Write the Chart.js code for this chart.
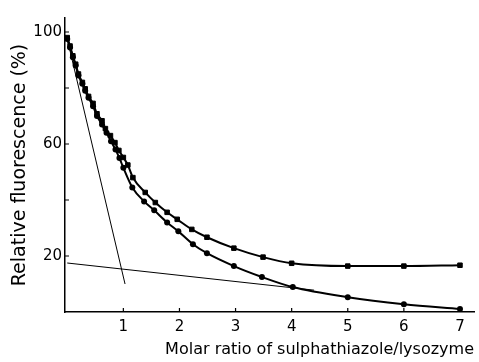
<!DOCTYPE html>
<html>
<head>
<meta charset="utf-8">
<script src="https://cdn.jsdelivr.net/npm/chart.js@4.4.0/dist/chart.umd.min.js"></script>
<style>
  html, body { margin: 0; padding: 0; background: #fff; }
  canvas { display: block; }
</style>
</head>
<body>
<canvas id="chart" width="479" height="362"></canvas>
<script>
// upper curve (squares)
const ratioA = [0, 0.05, 0.1, 0.15, 0.2, 0.27, 0.32, 0.38, 0.46, 0.53, 0.62, 0.68, 0.77, 0.85, 0.92, 1.0, 1.08, 1.17, 1.39, 1.57, 1.78, 1.96, 2.22, 2.49, 2.97, 3.49, 4, 5, 6, 7];
const fluorA = [98, 95, 91.5, 88.5, 85, 82, 79.7, 77, 74.5, 70.8, 68.3, 65.5, 63, 60.5, 57.7, 55.2, 52.5, 48, 42.7, 39.1, 35.6, 33.1, 29.5, 26.7, 22.8, 19.6, 17.4, 16.4, 16.4, 16.7];
// lower curve (dots)
const ratioB = [0, 0.05, 0.1, 0.15, 0.2, 0.27, 0.32, 0.38, 0.46, 0.53, 0.62, 0.7, 0.78, 0.86, 0.93, 1.0, 1.16, 1.37, 1.55, 1.78, 1.98, 2.24, 2.49, 2.97, 3.47, 4.02, 5, 6, 7];
const fluorB = [97.5, 94.5, 91, 88, 84.5, 81.5, 79, 76.5, 73.5, 70, 67, 64, 61, 58, 55, 51.5, 44.5, 39.5, 36.3, 32, 28.8, 24.2, 21, 16.4, 12.5, 8.9, 5.3, 2.8, 1.1];
// tangent lines
const steepX = [0, 1.03];
const steepY = [97.5, 10];
const flatX = [0, 4.4];
const flatY = [17.5, 7.8];

const xTicks = [1, 2, 3, 4, 5, 6, 7];
const yTicks = [20, 40, 60, 80, 100];
const yLabelled = [20, 60, 100];

function toPoints(xs, ys) {
    let pts = [];
    for (let i = 0; i < xs.length; i++) {
        pts.push({ x: xs[i], y: ys[i] });
    }
    return pts;
}

const fontFamily = '"DejaVu Sans", sans-serif';

// small tick marks drawn inside the axes
const innerTicks = {
    id: 'innerTicks',
    afterDraw(chart) {
        const ctx = chart.ctx;
        const xs = chart.scales.x;
        const ys = chart.scales.y;
        const area = chart.chartArea;
        ctx.save();
        ctx.strokeStyle = '#000';
        ctx.lineWidth = 1.2;
        ctx.beginPath();
        xTicks.forEach(v => {
            const px = xs.getPixelForValue(v);
            ctx.moveTo(px, area.bottom);
            ctx.lineTo(px, area.bottom - 4);
        });
        yTicks.forEach(v => {
            const py = ys.getPixelForValue(v);
            ctx.moveTo(area.left, py);
            ctx.lineTo(area.left + 4, py);
        });
        ctx.stroke();
        ctx.restore();
    }
};

new Chart(document.getElementById('chart').getContext('2d'), {
    type: 'scatter',
    data: {
        datasets: [
            {
                data: toPoints(ratioA, fluorA),
                showLine: true,
                borderColor: '#000',
                backgroundColor: '#000',
                borderWidth: 2,
                pointStyle: 'rect',
                pointRadius: 3.2,
                pointBorderWidth: 1,
                cubicInterpolationMode: 'monotone'
            },
            {
                data: toPoints(ratioB, fluorB),
                showLine: true,
                borderColor: '#000',
                backgroundColor: '#000',
                borderWidth: 2,
                pointStyle: 'circle',
                pointRadius: 3,
                pointBorderWidth: 0,
                cubicInterpolationMode: 'monotone'
            },
            {
                data: toPoints(steepX, steepY),
                showLine: true,
                borderColor: '#000',
                borderWidth: 1,
                pointRadius: 0
            },
            {
                data: toPoints(flatX, flatY),
                showLine: true,
                borderColor: '#000',
                borderWidth: 1,
                pointRadius: 0
            }
        ]
    },
    options: {
        responsive: false,
        animation: false,
        devicePixelRatio: 1,
        layout: { padding: { top: 18, right: -6, left: 0, bottom: 0 } },
        plugins: {
            legend: { display: false },
            tooltip: { enabled: false }
        },
        scales: {
            x: {
                type: 'linear',
                min: -0.04,
                max: 7.25,
                afterBuildTicks(scale) {
                    scale.ticks = xTicks.map(v => ({ value: v }));
                },
                afterFit(scale) { scale.height = 50; },
                grid: { drawOnChartArea: false, drawTicks: false },
                border: { display: true, color: '#000', width: 1.5 },
                ticks: {
                    color: '#000',
                    padding: 6,
                    maxRotation: 0,
                    font: { family: fontFamily, size: 15 }
                },
                title: {
                    display: true,
                    text: 'Molar ratio of sulphathiazole/lysozyme',
                    align: 'end',
                    color: '#000',
                    padding: { top: 0, bottom: 3 },
                    font: { family: fontFamily, size: 16 }
                }
            },
            y: {
                type: 'linear',
                min: 0,
                max: 105,
                afterBuildTicks(scale) {
                    scale.ticks = yTicks.map(v => ({ value: v }));
                },
                afterFit(scale) { scale.width = 65; },
                grid: { drawOnChartArea: false, drawTicks: false },
                border: { display: true, color: '#000', width: 1.5 },
                ticks: {
                    color: '#000',
                    padding: 3,
                    font: { family: fontFamily, size: 15 },
                    callback: function (value) {
                        return yLabelled.includes(value) ? String(value) : '';
                    }
                },
                title: {
                    display: true,
                    text: 'Relative fluorescence (%)',
                    color: '#000',
                    padding: { top: 9, bottom: 0 },
                    font: { family: fontFamily, size: 19 }
                }
            }
        }
    },
    plugins: [innerTicks]
});
</script>
</body>
</html>
